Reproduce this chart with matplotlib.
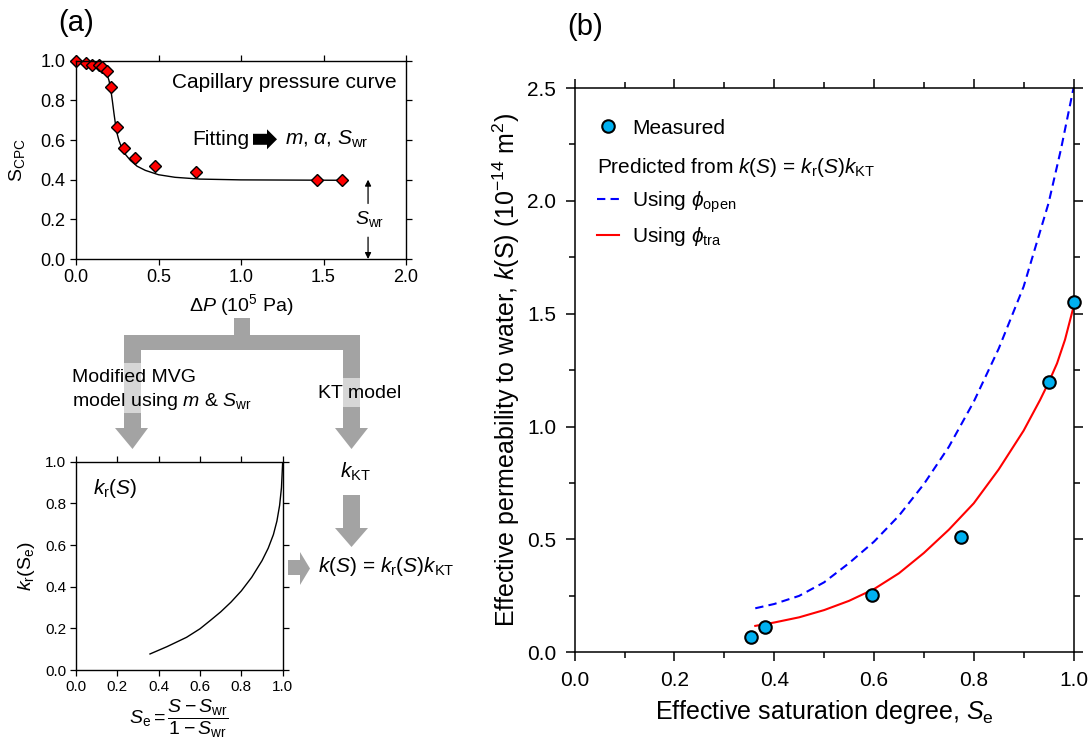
import matplotlib
matplotlib.use('Agg')
import matplotlib.pyplot as plt
from matplotlib.patches import Polygon
from matplotlib.ticker import MultipleLocator

plt.rcParams['font.family'] = ['Liberation Sans', 'DejaVu Sans']
plt.rcParams['mathtext.fontset'] = 'custom'
plt.rcParams['mathtext.rm'] = 'Liberation Sans'
plt.rcParams['mathtext.it'] = 'Liberation Sans:italic'
plt.rcParams['mathtext.bf'] = 'Liberation Sans:bold'

# =========================
# data
# =========================

# (a) capillary pressure curve
dp_meas = [0.0, 0.061, 0.095, 0.14, 0.16, 0.186, 0.212, 0.246, 0.29, 0.36, 0.48, 0.727, 1.459, 1.61]
s_meas = [1.0, 0.987, 0.98, 0.978, 0.97, 0.946, 0.866, 0.664, 0.558, 0.511, 0.468, 0.438, 0.398, 0.396]

dp_fit = [0.0, 0.08, 0.12, 0.15, 0.17, 0.185, 0.2, 0.21, 0.22, 0.23, 0.24, 0.25, 0.26, 0.275,
          0.3, 0.33, 0.37, 0.42, 0.5, 0.6, 0.75, 1.0, 1.62]
s_fit = [1.0, 0.997, 0.99, 0.975, 0.958, 0.94, 0.9, 0.86, 0.8, 0.735, 0.675, 0.63, 0.598, 0.565,
         0.527, 0.497, 0.468, 0.447, 0.425, 0.412, 0.403, 0.399, 0.397]

# (a) relative permeability k_r(S_e)
se_kr = [0.358, 0.44, 0.535, 0.6, 0.65, 0.7, 0.75, 0.8, 0.85, 0.9, 0.93, 0.955, 0.972, 0.985,
         0.994, 1.0]
kr = [0.077, 0.112, 0.157, 0.198, 0.238, 0.279, 0.326, 0.38, 0.445, 0.525, 0.585, 0.65, 0.715,
      0.79, 0.875, 1.0]

# (b) effective permeability
se_meas = [0.354, 0.381, 0.596, 0.774, 0.95, 1.0]
k_meas = [0.066, 0.112, 0.255, 0.51, 1.199, 1.553]

se_open = [0.362, 0.4, 0.45, 0.5, 0.55, 0.6, 0.65, 0.7, 0.75, 0.8, 0.85, 0.9, 0.95, 0.975, 1.0]
k_open = [0.195, 0.214, 0.25, 0.31, 0.395, 0.49, 0.605, 0.745, 0.91, 1.11, 1.345, 1.62, 1.99,
          2.23, 2.5]

se_tra = [0.362, 0.4, 0.45, 0.5, 0.55, 0.6, 0.65, 0.7, 0.75, 0.8, 0.85, 0.9, 0.933, 0.95,
          0.967, 0.983, 1.0]
k_tra = [0.117, 0.132, 0.155, 0.187, 0.228, 0.28, 0.35, 0.44, 0.543, 0.66, 0.81, 0.982, 1.118,
         1.195, 1.28, 1.385, 1.53]

W, H = 1091, 746
fig = plt.figure(figsize=(W / 100, H / 100), dpi=100)


def rect(l, t, r, b):
    # axes rectangle from pixel edges
    return [l / W, 1 - b / H, (r - l) / W, (b - t) / H]


def shape(pts, color='#a3a3a3'):
    p = Polygon([(x / W, 1 - y / H) for x, y in pts], closed=True,
                transform=fig.transFigure, facecolor=color, edgecolor='none')
    fig.add_artist(p)


def box(l, t, r, b, color='#a3a3a3'):
    shape([(l, t), (r, t), (r, b), (l, b)], color)


def ftext(x, y, s, **kw):
    fig.text(x / W, 1 - y / H, s, **kw)


# =========================
# (a) top: capillary pressure curve
# =========================
ax1 = fig.add_axes(rect(76, 60.7, 406, 259))
ax1.plot(dp_fit, s_fit, color='black', lw=1.0)
ax1.plot(dp_meas, s_meas, 'D', color='red', mec='black', mew=1.0, ms=6.5, clip_on=False)
ax1.set_xlim(0, 2)
ax1.set_ylim(0, 1)
ax1.xaxis.set_major_locator(MultipleLocator(0.5))
ax1.yaxis.set_major_locator(MultipleLocator(0.2))
ax1.tick_params(direction='out', top=True, right=True, length=4.5, width=0.9,
                labelsize=13, pad=3)
for sp in ax1.spines.values():
    sp.set_linewidth(1.0)
ax1.set_xlabel(r'$\Delta P$ (10$^5$ Pa)', fontsize=14, labelpad=4)
ax1.set_ylabel(r'$\mathrm{S}_\mathrm{CPC}$', fontsize=14, labelpad=10)

ax1.text(0.973, 0.889, 'Capillary pressure curve', transform=ax1.transAxes,
         ha='right', va='center', fontsize=15)
ax1.text(0.351, 0.604, 'Fitting', transform=ax1.transAxes, ha='left', va='center', fontsize=15)
ax1.text(0.633, 0.604, r'$m$, $\alpha$, $S_\mathrm{wr}$', transform=ax1.transAxes,
         ha='left', va='center', fontsize=15)
shape([(253, 133.8), (267, 133.8), (267, 129.3), (277, 139.3), (267, 149.3), (267, 144.8),
       (253, 144.8)], color='black')

ax1.annotate('', xy=(1.77, 0.4), xytext=(1.77, 0.28),
             arrowprops=dict(arrowstyle='-|>', color='black', lw=0.9,
                             mutation_scale=9, shrinkA=0, shrinkB=0))
ax1.annotate('', xy=(1.77, 0.0), xytext=(1.77, 0.11),
             arrowprops=dict(arrowstyle='-|>', color='black', lw=0.9,
                             mutation_scale=9, shrinkA=0, shrinkB=0))
ax1.text(1.78, 0.2, r'$S_\mathrm{wr}$', ha='center', va='center', fontsize=14)

# =========================
# (a) bottom: k_r(S)
# =========================
ax2 = fig.add_axes(rect(76, 461.7, 282.7, 670))
ax2.plot(se_kr, kr, color='black', lw=1.0)
ax2.set_xlim(0, 1)
ax2.set_ylim(0, 1)
ax2.xaxis.set_major_locator(MultipleLocator(0.2))
ax2.yaxis.set_major_locator(MultipleLocator(0.2))
ax2.tick_params(direction='out', top=True, right=True, length=4.5, width=0.9,
                labelsize=11, pad=2.5)
for sp in ax2.spines.values():
    sp.set_linewidth(1.0)
ax2.set_ylabel(r'$k_\mathrm{r}(\mathrm{S}_\mathrm{e})$', fontsize=14, labelpad=6)
ax2.set_xlabel(r'$S_\mathrm{e} = \dfrac{S - S_\mathrm{wr}}{1 - S_\mathrm{wr}}$', fontsize=14,
               labelpad=3)
ax2.text(0.08, 0.87, r'$k_\mathrm{r}(S)$', transform=ax2.transAxes, ha='left', va='center',
         fontsize=15)

# =========================
# flow arrows between panels
# =========================
box(234, 318, 250, 350)
box(124, 335, 360, 350)
box(124, 335, 141, 428)
shape([(115, 428), (148, 428), (132.5, 449)])
box(343, 335, 360, 428)
shape([(335, 428), (368, 428), (351.5, 449)])
box(124, 363, 141, 413, color='#d6d6d6')
box(343, 378, 360, 407, color='#d6d6d6')
box(343, 495, 360, 528)
shape([(335, 528), (368, 528), (351.5, 547)])
box(288, 560, 300, 575)
shape([(300, 552), (300, 585), (310, 568.5)])

ftext(72, 377, 'Modified MVG', ha='left', va='center', fontsize=14)
ftext(72, 402, r'model using $m$ & $S_\mathrm{wr}$', ha='left', va='center', fontsize=14)
ftext(318, 393, 'KT model', ha='left', va='center', fontsize=14)
ftext(355, 472, r'$k_\mathrm{KT}$', ha='center', va='center', fontsize=15)
ftext(318, 567, r'$k(S)$ = $k_\mathrm{r}(S)k_\mathrm{KT}$', ha='left', va='center', fontsize=15)

ftext(76, 23, '(a)', ha='center', va='center', fontsize=21)
ftext(585, 27, '(b)', ha='center', va='center', fontsize=21)

# =========================
# (b) effective permeability
# =========================
ax3 = fig.add_axes(rect(574.7, 88, 1073.5, 652.3))
l_open, = ax3.plot(se_open, k_open, color='#0000ff', lw=1.5, dashes=(4, 2.5))
l_tra, = ax3.plot(se_tra, k_tra, color='#ff0000', lw=1.5)
pts, = ax3.plot(se_meas, k_meas, 'o', color='#00b0f0', mec='black', mew=1.5, ms=9,
                clip_on=False, zorder=5)
ax3.set_xlim(0, 1)
ax3.set_ylim(0, 2.5)
ax3.xaxis.set_major_locator(MultipleLocator(0.2))
ax3.xaxis.set_minor_locator(MultipleLocator(0.1))
ax3.yaxis.set_major_locator(MultipleLocator(0.5))
ax3.yaxis.set_minor_locator(MultipleLocator(0.25))
ax3.tick_params(which='both', direction='out', top=True, right=True, width=1.1,
                labelsize=15, pad=6.5)
ax3.tick_params(which='major', length=6.7)
ax3.tick_params(which='minor', length=4.5)
for sp in ax3.spines.values():
    sp.set_linewidth(1.1)
ax3.set_xlabel(r'Effective saturation degree, $S_\mathrm{e}$', fontsize=18, labelpad=6)
ax3.set_ylabel(r'Effective permeability to water, $k$(S) (10$^{-14}$ m$^2$)', fontsize=18,
               labelpad=4)

leg1 = ax3.legend([pts], ['Measured'], loc='center left', bbox_to_anchor=(0.0447, 0.9286),
                  frameon=False, fontsize=15, borderpad=0, borderaxespad=0,
                  handlelength=1.06, handletextpad=0.62)
ax3.add_artist(leg1)
leg2 = ax3.legend([l_open, l_tra], [r'Using $\phi_\mathrm{open}$', r'Using $\phi_\mathrm{tra}$'],
                  title=r'Predicted from $k$($S$) = $k_\mathrm{r}$($S$)$k_\mathrm{KT}$',
                  title_fontsize=15, alignment='left', loc='upper left',
                  bbox_to_anchor=(0.0447, 0.8795), frameon=False, fontsize=15, borderpad=0,
                  borderaxespad=0, handlelength=1.06, handletextpad=0.62, labelspacing=0.5)

fig.savefig('out.png', dpi=100)
